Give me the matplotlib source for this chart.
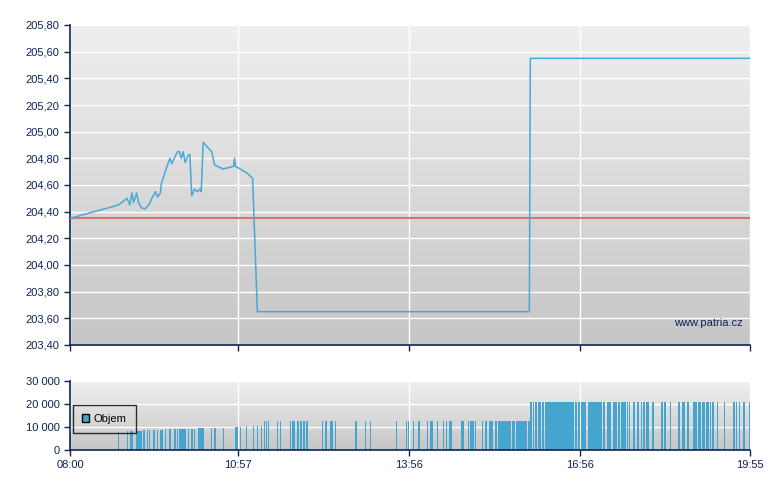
import matplotlib
matplotlib.use("Agg")
import matplotlib.pyplot as plt
import numpy as np
from matplotlib.colors import LinearSegmentedColormap
from matplotlib.patches import Patch

# Price (intraday), times HH:MM
price_times = ["08:00", "08:51", "09:00", "09:03", "09:05", "09:07", "09:10", "09:12",
               "09:15", "09:19", "09:21", "09:23", "09:26", "09:30", "09:32", "09:35",
               "09:36", "09:43", "09:45", "09:47", "09:53", "09:55", "09:57", "09:59",
               "10:01", "10:03", "10:04", "10:06", "10:08", "10:11", "10:14", "10:17",
               "10:18", "10:20", "10:29", "10:32", "10:41", "10:52", "10:53", "10:54",
               "10:59", "11:06", "11:12", "11:17", "16:03", "16:04", "19:55"]
price_values = [204.35, 204.45, 204.50, 204.45, 204.54, 204.47, 204.54, 204.47,
                204.43, 204.42, 204.44, 204.45, 204.50, 204.55, 204.51, 204.54,
                204.61, 204.76, 204.80, 204.76, 204.85, 204.85, 204.80, 204.85,
                204.77, 204.80, 204.82, 204.83, 204.52, 204.57, 204.55, 204.57,
                204.55, 204.92, 204.85, 204.75, 204.72, 204.74, 204.80, 204.74,
                204.72, 204.69, 204.65, 203.65, 203.65, 205.55, 205.55]
prev_close = 204.35

# Volume bars: start time, duration (minutes), volume
vol_start = ["08:00", "08:50", "09:00", "09:03", "09:09", "09:17", "09:21", "09:23",
             "09:27", "09:31", "09:35", "09:36", "09:40", "09:44", "09:49", "09:52",
             "09:55", "09:56", "10:04", "10:07", "10:10", "10:15", "10:28", "10:31",
             "10:41", "10:53", "10:59", "11:05", "11:12", "11:17", "11:21", "11:24",
             "11:26", "11:28", "11:38", "11:41", "11:51", "11:53", "11:59", "12:02",
             "12:05", "12:08", "12:25", "12:28", "12:33", "12:39", "13:00", "13:10",
             "13:15", "13:43", "13:53", "13:55", "14:01", "14:06", "14:15", "14:19",
             "14:26", "14:32", "14:35", "14:39", "14:51", "14:58", "15:01", "15:06",
             "15:13", "15:16", "15:21", "15:27", "15:30", "15:45", "15:49", "16:02",
             "16:04", "16:07", "16:09", "16:12", "16:16", "16:19", "16:51", "16:54",
             "16:57", "17:05", "17:20", "17:25", "17:31", "17:36", "17:39", "17:46",
             "17:48", "17:52", "17:56", "18:00", "18:02", "18:06", "18:12", "18:21",
             "18:25", "18:31", "18:39", "18:43", "18:45", "18:49", "18:55", "19:00",
             "19:05", "19:09", "19:13", "19:15", "19:20", "19:28", "19:37", "19:40",
             "19:43", "19:48", "19:54"]
vol_len = [1, 1, 1, 3, 7, 2, 1, 1,
           2, 1, 1, 2, 1, 2, 2, 1,
           1, 6, 1, 2, 1, 6, 1, 2,
           1, 4, 1, 1, 1, 1, 1, 1,
           1, 1, 1, 1, 1, 3, 2, 2,
           2, 2, 1, 2, 3, 1, 2, 1,
           1, 1, 1, 1, 1, 2, 1, 3,
           1, 1, 1, 3, 3, 1, 4, 1,
           1, 2, 4, 2, 14, 3, 11, 1,
           2, 1, 2, 3, 2, 31, 2, 2,
           5, 14, 2, 4, 4, 2, 5, 1,
           1, 2, 2, 1, 2, 3, 2, 2,
           1, 1, 2, 1, 2, 2, 4, 3,
           3, 3, 1, 2, 1, 1, 2, 1,
           1, 2, 1]
vol_values = [7500, 8000, 8300, 8300, 8300, 8700, 8700, 8700,
              8700, 8700, 8700, 8700, 9100, 9100, 9100, 9100,
              9100, 9100, 9100, 9100, 9100, 9600, 9600, 9600,
              9600, 10100, 10100, 10400, 10400, 10400, 10400, 12600,
              12600, 12600, 12600, 12600, 12600, 12600, 12600, 12600,
              12600, 12600, 12600, 12600, 12600, 12600, 12600, 12600,
              12600, 12600, 12600, 12600, 12600, 12600, 12600, 12600,
              12600, 12600, 12600, 12600, 12600, 12600, 12600, 12600,
              12600, 12600, 12600, 12600, 12600, 12600, 12600, 12600,
              21000, 21000, 21000, 21000, 21000, 21000, 21000, 21000,
              21000, 21000, 21000, 21000, 21000, 21000, 21000, 21000,
              21000, 21000, 21000, 21000, 21000, 21000, 21000, 21000,
              21000, 21000, 21000, 21000, 21000, 21000, 21000, 21000,
              21000, 21000, 21000, 21000, 21000, 21000, 21000, 21000,
              21000, 21000, 21000]

price_ticks = [203.4, 203.6, 203.8, 204.0, 204.2, 204.4, 204.6, 204.8, 205.0,
               205.2, 205.4, 205.6, 205.8]
time_ticks = ["08:00", "10:57", "13:56", "16:56", "19:55"]
vol_ticks = [0, 10000, 20000, 30000]
vol_tick_labels = ["0", "10 000", "20 000", "30 000"]


def minutes(s):
    h, m = s.split(":")
    return (int(h) - 8) * 60 + int(m)


navy = "#0c2457"
line_blue = "#4aa8d6"
bar_blue = "#45a5cf"

plt.rcParams['font.family'] = ['Liberation Sans', 'DejaVu Sans']

fig = plt.figure(figsize=(7.8, 4.9), dpi=100)
ax = fig.add_axes([70/780, 1-345/490, 680/780, 320/490])
ax2 = fig.add_axes([70/780, 1-450/490, 680/780, 69/490])

grad = LinearSegmentedColormap.from_list("bg", ["#c6c6c6", "#efefef"])
g = np.linspace(0, 1, 256).reshape(-1, 1)
for a in (ax, ax2):
    a.imshow(g, extent=[0, 1, 0, 1], transform=a.transAxes, aspect='auto',
             cmap=grad, origin='lower', zorder=0)
    a.set_xlim(0, minutes("19:55"))
    a.set_xticks([minutes(t) for t in time_ticks])
    a.grid(True, color='white', linewidth=1)
    a.set_axisbelow(True)
    for s in ("top", "right"):
        a.spines[s].set_visible(False)
    for s in ("left", "bottom"):
        a.spines[s].set_color(navy)
        a.spines[s].set_linewidth(1.2)
    a.tick_params(colors=navy, labelcolor=navy, labelsize=8, length=4, width=1)

# price panel
tx = [minutes(t) for t in price_times]
ax.axhline(prev_close, color="#e06666", linewidth=1.5, alpha=0.9, zorder=2)
ax.plot(tx, price_values, color=line_blue, linewidth=1.1, zorder=3)
ax.set_ylim(203.4, 205.8)
ax.set_yticks(price_ticks)
ax.set_yticklabels([f"{v:.2f}".replace(".", ",") for v in price_ticks])
ax.set_xticklabels([])
ax.text(0.99, 0.069, "www.patria.cz", transform=ax.transAxes, ha='right',
        va='center', color=navy, fontsize=8, zorder=4)

# volume panel: the 1px outline makes one-minute bars visible, so trim width
vx = [minutes(t) for t in vol_start]
bar_w = np.array(vol_len) - 0.9
ax2.bar(vx, vol_values, width=bar_w, align='edge', color=bar_blue,
        edgecolor=bar_blue, linewidth=0.4, antialiased=False, zorder=2)
ax2.set_ylim(0, 30000)
ax2.set_yticks(vol_ticks)
ax2.set_yticklabels(vol_tick_labels)
ax2.set_xticklabels(time_ticks)

leg = ax2.legend(handles=[Patch(facecolor=bar_blue, edgecolor='black', label='Objem')],
                 loc='upper left', bbox_to_anchor=(0.004, 0.652), fontsize=8,
                 frameon=True, fancybox=False, handlelength=0.7, handleheight=0.7,
                 handletextpad=0.4, borderpad=0.8, borderaxespad=0)
leg.get_frame().set_edgecolor('black')
leg.get_frame().set_facecolor('none')
leg.get_frame().set_linewidth(1)

fig.savefig("out.png", dpi=100)
